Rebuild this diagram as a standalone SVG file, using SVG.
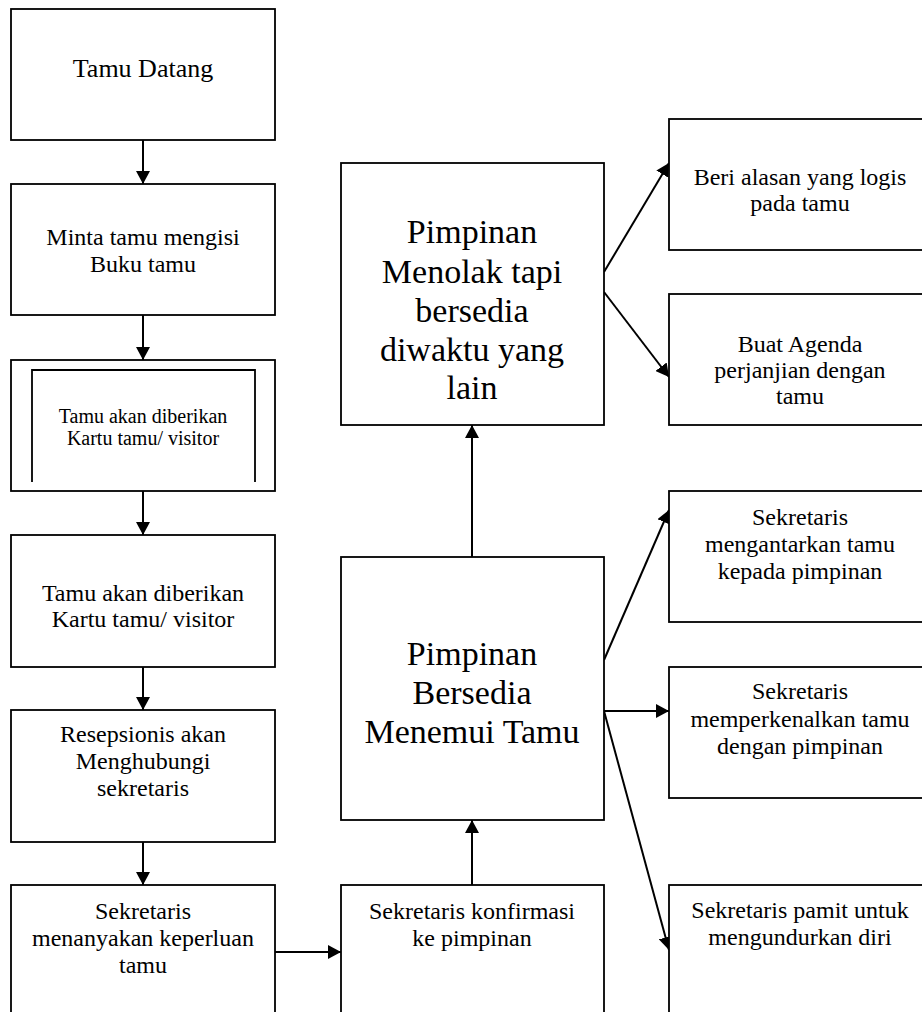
<svg xmlns="http://www.w3.org/2000/svg" width="922" height="1012" viewBox="0 0 922 1012">
<style>
.box{fill:#fff;stroke:#000;stroke-width:1.8}
.ln{fill:none;stroke:#000;stroke-width:2}
text{font-family:"Liberation Serif","Times New Roman",serif;fill:#000;text-anchor:middle}
.t{font-size:24px}
.h{font-size:26px}
.s{font-size:20px}
.b{font-size:34px}
</style>
<defs>
<marker id="ah" viewBox="0 0 13 14" refX="13" refY="7" markerWidth="13" markerHeight="14" orient="auto" markerUnits="userSpaceOnUse">
<path d="M0,0 L13,7 L0,14 z" fill="#000"/>
</marker>
</defs>
<rect width="922" height="1012" fill="#fff"/>
<g id="connectors">
<line class="ln" x1="143" y1="140" x2="143" y2="184" marker-end="url(#ah)"/>
<line class="ln" x1="143" y1="315" x2="143" y2="360" marker-end="url(#ah)"/>
<line class="ln" x1="143" y1="491" x2="143" y2="535" marker-end="url(#ah)"/>
<line class="ln" x1="143" y1="667" x2="143" y2="710" marker-end="url(#ah)"/>
<line class="ln" x1="143" y1="842" x2="143" y2="885" marker-end="url(#ah)"/>
<line class="ln" x1="275" y1="952" x2="341" y2="952" marker-end="url(#ah)"/>
<line class="ln" x1="472" y1="885" x2="472" y2="820" marker-end="url(#ah)"/>
<line class="ln" x1="472" y1="557" x2="472" y2="425" marker-end="url(#ah)"/>
<line class="ln" x1="604" y1="272" x2="669" y2="163" marker-end="url(#ah)"/>
<line class="ln" x1="604" y1="292" x2="669" y2="377" marker-end="url(#ah)"/>
<line class="ln" x1="604" y1="660" x2="669" y2="510" marker-end="url(#ah)"/>
<line class="ln" x1="604" y1="711" x2="669" y2="711" marker-end="url(#ah)"/>
<line class="ln" x1="604" y1="711" x2="669" y2="950" marker-end="url(#ah)"/>
</g>
<g id="n1">
<rect class="box" x="11" y="9" width="264" height="131"/>
<text class="h" x="143" y="77">Tamu Datang</text>
</g>
<g id="n2">
<rect class="box" x="11" y="184" width="264" height="131"/>
<text class="t" x="143" y="245">Minta tamu mengisi</text>
<text class="t" x="143" y="272">Buku tamu</text>
</g>
<g id="n3">
<rect class="box" x="11" y="360" width="264" height="131"/>
<path class="ln" d="M32,482 V370 H255 V482" style="stroke-width:1.8"/>
<text class="s" x="143" y="423">Tamu akan diberikan</text>
<text class="s" x="143" y="445">Kartu tamu/ visitor</text>
</g>
<g id="n4">
<rect class="box" x="11" y="535" width="264" height="132"/>
<text class="t" x="143" y="601">Tamu akan diberikan</text>
<text class="t" x="143" y="627">Kartu tamu/ visitor</text>
</g>
<g id="n5">
<rect class="box" x="11" y="710" width="264" height="132"/>
<text class="t" x="143" y="742">Resepsionis akan</text>
<text class="t" x="143" y="769">Menghubungi</text>
<text class="t" x="143" y="796">sekretaris</text>
</g>
<g id="n6">
<rect class="box" x="11" y="885" width="264" height="140"/>
<text class="t" x="143" y="919">Sekretaris</text>
<text class="t" x="143" y="946">menanyakan keperluan</text>
<text class="t" x="143" y="973">tamu</text>
</g>
<g id="n7">
<rect class="box" x="341" y="885" width="263" height="140"/>
<text class="t" x="472" y="919">Sekretaris konfirmasi</text>
<text class="t" x="472" y="946">ke pimpinan</text>
</g>
<g id="n8">
<rect class="box" x="341" y="557" width="263" height="263"/>
<text class="b" x="472" y="665">Pimpinan</text>
<text class="b" x="472" y="704">Bersedia</text>
<text class="b" x="472" y="743">Menemui Tamu</text>
</g>
<g id="n9">
<rect class="box" x="341" y="163" width="263" height="262"/>
<text class="b" x="472" y="243">Pimpinan</text>
<text class="b" x="472" y="283">Menolak tapi</text>
<text class="b" x="472" y="322">bersedia</text>
<text class="b" x="472" y="361">diwaktu yang</text>
<text class="b" x="472" y="399">lain</text>
</g>
<g id="n10">
<rect class="box" x="669" y="119" width="264" height="131"/>
<text class="t" x="800" y="185">Beri alasan yang logis</text>
<text class="t" x="800" y="211">pada tamu</text>
</g>
<g id="n11">
<rect class="box" x="669" y="294" width="264" height="131"/>
<text class="t" x="800" y="352">Buat Agenda</text>
<text class="t" x="800" y="378">perjanjian dengan</text>
<text class="t" x="800" y="404">tamu</text>
</g>
<g id="n12">
<rect class="box" x="669" y="491" width="264" height="131"/>
<text class="t" x="800" y="525">Sekretaris</text>
<text class="t" x="800" y="552">mengantarkan tamu</text>
<text class="t" x="800" y="579">kepada pimpinan</text>
</g>
<g id="n13">
<rect class="box" x="669" y="667" width="264" height="131"/>
<text class="t" x="800" y="699">Sekretaris</text>
<text class="t" x="800" y="727">memperkenalkan tamu</text>
<text class="t" x="800" y="754">dengan pimpinan</text>
</g>
<g id="n14">
<rect class="box" x="669" y="885" width="264" height="140"/>
<text class="t" x="800" y="918">Sekretaris pamit untuk</text>
<text class="t" x="800" y="945">mengundurkan diri</text>
</g>
</svg>
